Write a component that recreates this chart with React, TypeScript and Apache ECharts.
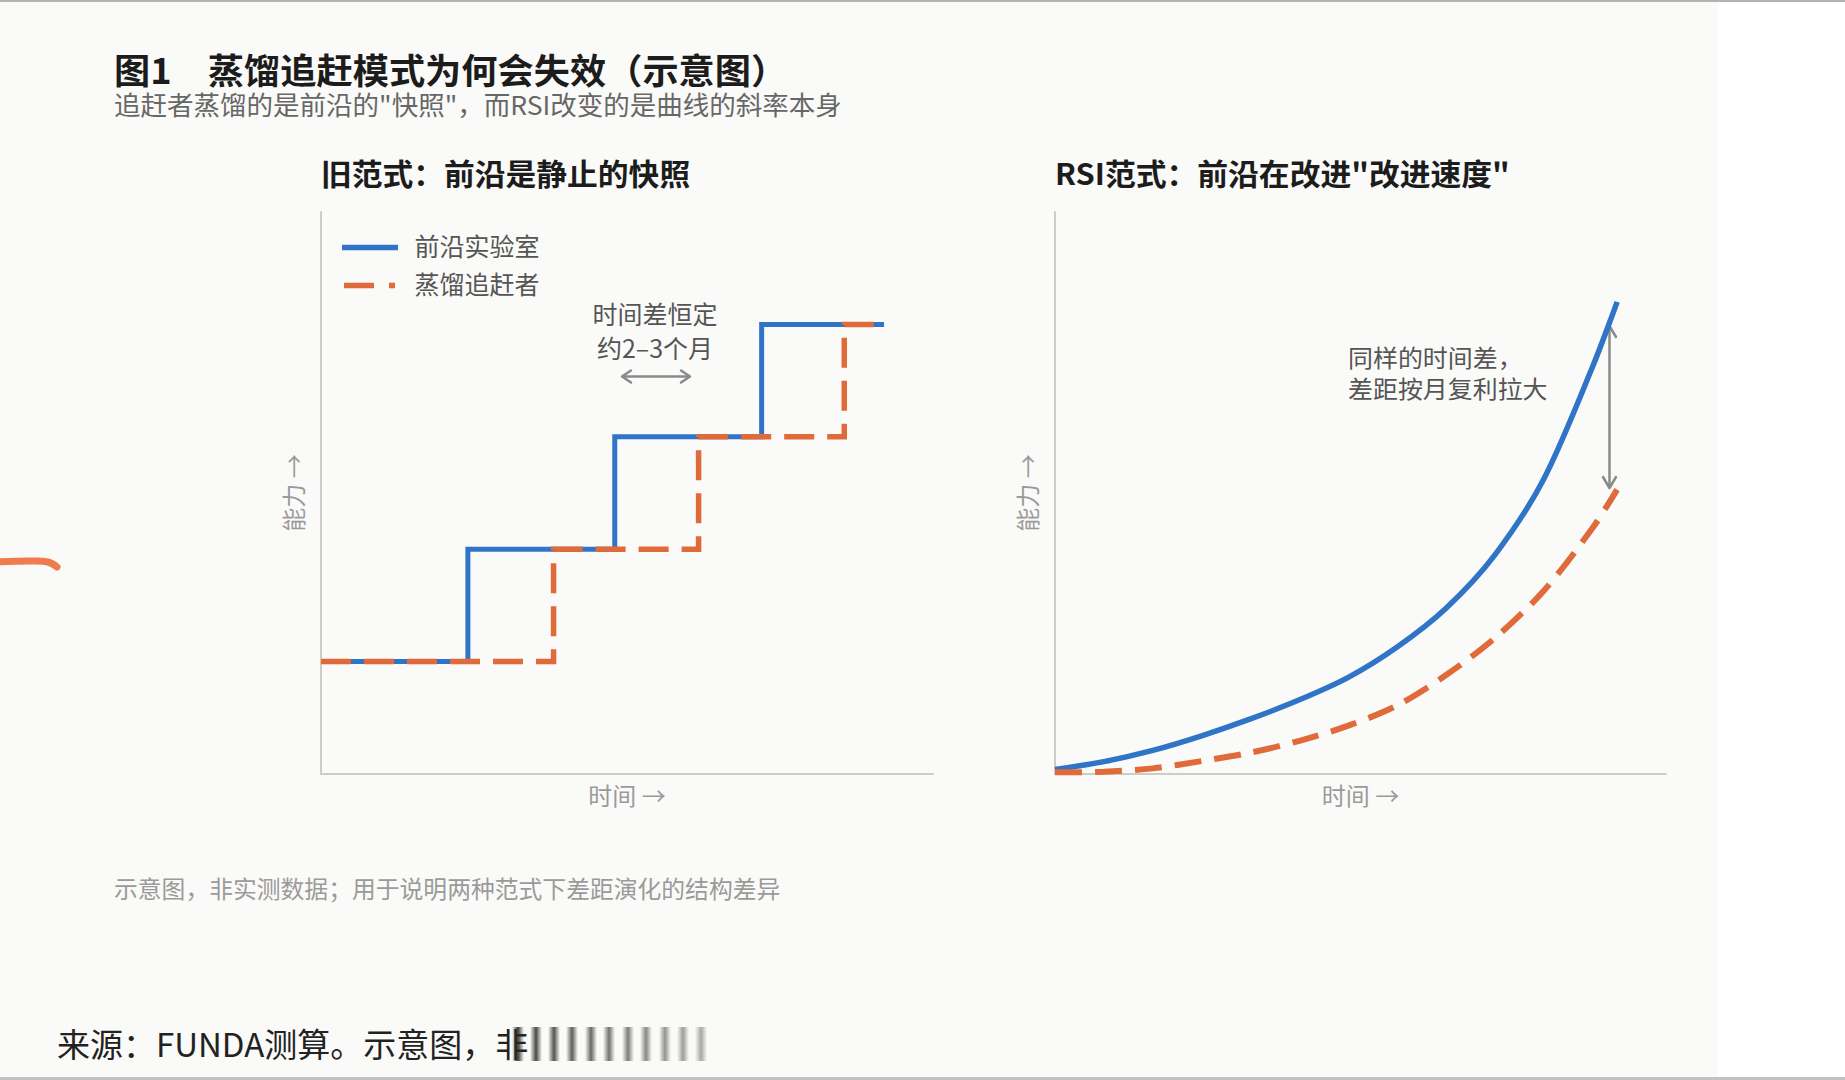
import React, { useEffect, useRef } from "react";
import * as echarts from "echarts";

const FONT = '"Noto Sans CJK SC", "Noto Sans", sans-serif';
const BLUE = "#2f74c6";
const ORANGE = "#e06a3a";
const AXIS = "#cdcdc6";

// Left panel (old paradigm): step functions, x = time (0-100), y = capability (0-100)
const leftFrontier: number[][] = [
  [0, 20], [24, 20], [24, 40], [48, 40], [48, 60], [72, 60], [72, 80], [92, 80],
];
const leftDistiller: number[][] = [
  [0, 20], [38, 20], [38, 40], [61.7, 40], [61.7, 60], [85.5, 60], [85.5, 80], [92, 80],
];

// Right panel (RSI paradigm): compounding curves
const rightFrontier: number[][] = [
  [0, 0.8], [8, 2.2], [16, 4.2], [24, 6.8], [32, 9.8], [40, 13.2], [48, 17.2],
  [56, 22.6], [64, 29.5], [72, 39], [80, 52.5], [88, 72.5], [92, 84],
];
const rightDistiller: number[][] = [
  [0, 0.3], [8, 0.4], [16, 1.0], [24, 2.3], [32, 3.8], [40, 5.9], [48, 8.6],
  [56, 12.2], [64, 17.6], [72, 24.2], [80, 32.6], [88, 43.8], [92, 50.6],
];

const seriesNames = ["前沿实验室", "蒸馏追赶者"];
const axisNames = { x: "时间 →", y: "能力 →" };
const titles = {
  main: "图1　蒸馏追赶模式为何会失效（示意图）",
  sub: '追赶者蒸馏的是前沿的"快照"，而RSI改变的是曲线的斜率本身',
  left: "旧范式：前沿是静止的快照",
  right: 'RSI范式：前沿在改进"改进速度"',
  note: "示意图，非实测数据；用于说明两种范式下差距演化的结构差异",
  source: "来源：FUNDA测算。示意图，非",
};
const annotations = {
  left: ["时间差恒定", "约2–3个月"],
  right: ["同样的时间差，", "差距按月复利拉大"],
};

function txt(x: number, y: number, text: string, size: number, fill: string, opts: any = {}) {
  return {
    type: "text",
    x,
    y,
    silent: true,
    scaleX: opts.scaleX || 1,
    style: {
      text,
      fill,
      fontSize: size,
      fontWeight: opts.bold ? "bold" : "normal",
      fontFamily: FONT,
      align: opts.align || "left",
      verticalAlign: "middle",
    },
  };
}

function axisX(gridIndex: number) {
  return {
    gridIndex,
    type: "value",
    min: 0,
    max: 100,
    axisLine: { show: true, onZero: false, lineStyle: { color: AXIS, width: 2 } },
    axisTick: { show: false },
    axisLabel: { show: false },
    splitLine: { show: false },
    name: axisNames.x,
    nameLocation: "middle",
    nameGap: 8,
    nameTextStyle: { color: "#9a9a9a", fontSize: 24, fontFamily: FONT, verticalAlign: "top" },
  };
}
function axisY(gridIndex: number) {
  return {
    gridIndex,
    type: "value",
    min: 0,
    max: 100,
    axisLine: { show: true, onZero: false, lineStyle: { color: AXIS, width: 2 } },
    axisTick: { show: false },
    axisLabel: { show: false },
    splitLine: { show: false },
    name: axisNames.y,
    nameLocation: "middle",
    nameRotate: 90,
    nameGap: 17,
    nameTextStyle: { color: "#9a9a9a", fontSize: 24, fontFamily: FONT },
  };
}

function chevron(points: number[][]) {
  return {
    type: "polyline",
    silent: true,
    shape: { points },
    style: { stroke: "#8a8a8a", lineWidth: 2.5, fill: "none", lineCap: "round", lineJoin: "round" },
  };
}

const blurBars = [512, 530, 548, 566, 585, 603, 622, 640, 659, 677, 695];

export default function App() {
  const ref = useRef<HTMLDivElement>(null);
  useEffect(() => {
    if (!ref.current) return;
    const chart = echarts.init(ref.current, undefined, { renderer: "svg" });

    const graphic: any[] = [
      { type: "rect", silent: true, z: -100, shape: { x: 0, y: 0, width: 1718, height: 1080 }, style: { fill: "#fafaf8" } },
      { type: "rect", silent: true, shape: { x: 0, y: 0, width: 1845, height: 2 }, style: { fill: "#b3b3b3" } },
      { type: "rect", silent: true, shape: { x: 0, y: 1077, width: 1845, height: 3 }, style: { fill: "#c2c2c2" } },
      {
        type: "polyline",
        silent: true,
        shape: { points: [[-6, 562], [30, 561], [48, 562], [57, 567]], smooth: 0.4 },
        style: { stroke: "#ee7c4e", lineWidth: 7, fill: "none", lineCap: "round" },
      },
      txt(114, 69, titles.main, 35, "#1c1c1c", { bold: true, scaleX: 1.035 }),
      txt(114, 104, titles.sub, 26, "#676767", { scaleX: 1.02 }),
      txt(321, 172.5, titles.left, 30, "#1c1c1c", { bold: true, scaleX: 1.026 }),
      txt(1055, 172.5, titles.right, 30, "#1c1c1c", { bold: true, scaleX: 1.027 }),
      // legend
      { type: "line", silent: true, shape: { x1: 342, y1: 247.5, x2: 398, y2: 247.5 }, style: { stroke: BLUE, lineWidth: 5.5 } },
      { type: "line", silent: true, shape: { x1: 344, y1: 285.5, x2: 395, y2: 285.5 }, style: { stroke: ORANGE, lineWidth: 5.5, lineDash: [30, 15] } },
      txt(414.5, 245, seriesNames[0], 25, "#555555"),
      txt(414.5, 283, seriesNames[1], 25, "#555555"),
      // left annotation
      txt(655, 313, annotations.left[0], 25, "#555555", { align: "center" }),
      txt(655, 347, annotations.left[1], 25, "#555555", { align: "center" }),
      { type: "line", silent: true, shape: { x1: 622, y1: 376.5, x2: 690, y2: 376.5 }, style: { stroke: "#8a8a8a", lineWidth: 2.5 } },
      chevron([[631, 370.5], [622, 376.5], [631, 382.5]]),
      chevron([[681, 370.5], [690, 376.5], [681, 382.5]]),
      // right annotation
      txt(1348, 356.5, annotations.right[0], 24, "#555555", { scaleX: 1.04 }),
      txt(1348, 388, annotations.right[1], 24, "#555555", { scaleX: 1.04 }),
      { type: "line", silent: true, shape: { x1: 1609.5, y1: 326, x2: 1609.5, y2: 488 }, style: { stroke: "#8a8a8a", lineWidth: 2.5 } },
      chevron([[1603, 337], [1609.5, 326], [1616, 337]]),
      chevron([[1603, 477], [1609.5, 488], [1616, 477]]),
      // footnote and source
      txt(114, 887.5, titles.note, 23.8, "#9a9a9a"),
      txt(57, 1043, titles.source, 33, "#222222"),
      ...blurBars.map((bx, i) => ({
        type: "rect",
        silent: true,
        shape: { x: bx, y: 1027, width: 12, height: 34 },
        style: {
          fill: {
            type: "linear", x: 0, y: 0, x2: 1, y2: 0,
            colorStops: [
              { offset: 0, color: "rgba(40,40,40,0)" },
              { offset: 0.5, color: "rgba(40,40,40," + (0.9 - i * 0.05).toFixed(2) + ")" },
              { offset: 1, color: "rgba(40,40,40,0)" },
            ],
          },
        },
      })),
    ];

    chart.setOption({
      animation: false,
      backgroundColor: "#ffffff",
      textStyle: { fontFamily: FONT },
      grid: [
        { left: 321, top: 212, width: 612, height: 562 },
        { left: 1055, top: 212, width: 611, height: 562 },
      ],
      xAxis: [axisX(0), axisX(1)],
      yAxis: [axisY(0), axisY(1)],
      series: [
        {
          name: seriesNames[0], type: "line", xAxisIndex: 0, yAxisIndex: 0, data: leftFrontier,
          symbol: "none", silent: true,
          lineStyle: { color: BLUE, width: 5, cap: "butt", join: "miter" },
        },
        {
          name: seriesNames[1], type: "line", xAxisIndex: 0, yAxisIndex: 0, data: leftDistiller,
          symbol: "none", silent: true,
          lineStyle: { color: ORANGE, width: 5.5, type: [30, 13], cap: "butt", join: "miter" },
        },
        {
          name: seriesNames[0], type: "line", xAxisIndex: 1, yAxisIndex: 1, data: rightFrontier,
          symbol: "none", silent: true, smooth: 0.3,
          lineStyle: { color: BLUE, width: 5.5, cap: "butt" },
        },
        {
          name: seriesNames[1], type: "line", xAxisIndex: 1, yAxisIndex: 1, data: rightDistiller,
          symbol: "none", silent: true, smooth: 0.3,
          lineStyle: { color: ORANGE, width: 6, type: [27, 13], cap: "butt" },
        },
      ],
      graphic,
    });
    return () => chart.dispose();
  }, []);

  return (
    <div
      ref={ref}
      style={{ position: "fixed", left: 0, top: 0, width: 1845, height: 1080 }}
    />
  );
}
